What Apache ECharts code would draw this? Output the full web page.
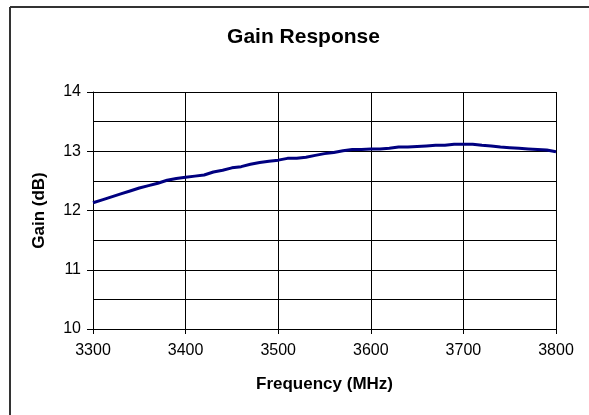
<!DOCTYPE html>
<html>
<head>
<meta charset="utf-8">
<script src="https://cdn.jsdelivr.net/npm/echarts@6/dist/echarts.min.js"></script>
<style>
html,body{margin:0;padding:0;background:#fff;}
#chart{width:589px;height:415px;}
</style>
</head>
<body>
<div id="chart"></div>
<script>
var freqs = [3300,3310,3320,3330,3340,3350,3360,3370,3380,3390,
             3400,3410,3420,3430,3440,3450,3460,3470,3480,3490,
             3500,3510,3520,3530,3540,3550,3560,3570,3580,3590,
             3600,3610,3620,3630,3640,3650,3660,3670,3680,3690,
             3700,3710,3720,3730,3740,3750,3760,3770,3780,3790,3800];
var gains = [12.13,12.18,12.23,12.28,12.33,12.38,12.42,12.46,12.51,12.54,
             12.56,12.58,12.60,12.65,12.68,12.72,12.74,12.78,12.81,12.83,
             12.85,12.88,12.88,12.90,12.93,12.96,12.98,13.01,13.03,13.03,
             13.04,13.04,13.05,13.07,13.07,13.08,13.09,13.10,13.10,13.12,
             13.12,13.12,13.10,13.09,13.07,13.06,13.05,13.04,13.03,13.02,12.99];
var titleText = 'Gain Response';
var xName = 'Frequency (MHz)';
var yName = 'Gain (dB)';

var FONT = 'Arial, "Liberation Sans", sans-serif';
var chart = echarts.init(document.getElementById('chart'), null, {renderer:'canvas'});
var pts = freqs.map(function(f,i){return [f, gains[i]];});
chart.setOption({
  animation:false,
  backgroundColor:'#fff',
  title:{
    text:titleText, left:303.5, top:27, textAlign:'center', padding:0,
    textStyle:{fontFamily:FONT, fontSize:21, fontWeight:'bold', color:'#000'}
  },
  graphic:[
    {type:'line', silent:true, shape:{x1:10, y1:7, x2:700, y2:7}, style:{stroke:'#333', lineWidth:2}},
    {type:'line', silent:true, shape:{x1:10, y1:7, x2:10, y2:500}, style:{stroke:'#333', lineWidth:2}}
  ],
  grid:{left:93, right:33, top:92, bottom:86, containLabel:false},
  xAxis:{
    type:'value', min:3300, max:3800, interval:100,
    name:xName, nameLocation:'middle', nameGap:47,
    nameTextStyle:{fontFamily:FONT, fontSize:17, fontWeight:'bold', color:'#000'},
    axisLine:{show:true, onZero:false, lineStyle:{color:'#000', width:1}},
    axisTick:{show:true, inside:false, length:5, lineStyle:{color:'#000'}},
    axisLabel:{fontFamily:FONT, fontSize:16, color:'#000', margin:14,
      formatter:function(v){return String(v);}},
    splitLine:{show:true, lineStyle:{color:'#000', width:1}}
  },
  yAxis:{
    type:'value', min:10, max:14, interval:1,
    name:yName, nameLocation:'middle', nameGap:45,
    nameTextStyle:{fontFamily:FONT, fontSize:17, fontWeight:'bold', color:'#000'},
    axisLine:{show:true, onZero:false, lineStyle:{color:'#000', width:1}},
    axisTick:{show:true, inside:false, length:6, lineStyle:{color:'#000'}},
    axisLabel:{fontFamily:FONT, fontSize:16, color:'#000', margin:12},
    splitLine:{show:true, lineStyle:{color:'#000', width:1}},
    minorTick:{show:false, splitNumber:2},
    minorSplitLine:{show:true, lineStyle:{color:'#000', width:1}}
  },
  series:[{
    type:'line', data:pts, showSymbol:false, symbol:'none',
    lineStyle:{color:'#000080', width:3},
    itemStyle:{color:'#000080'}
  }]
});
</script>
</body>
</html>
